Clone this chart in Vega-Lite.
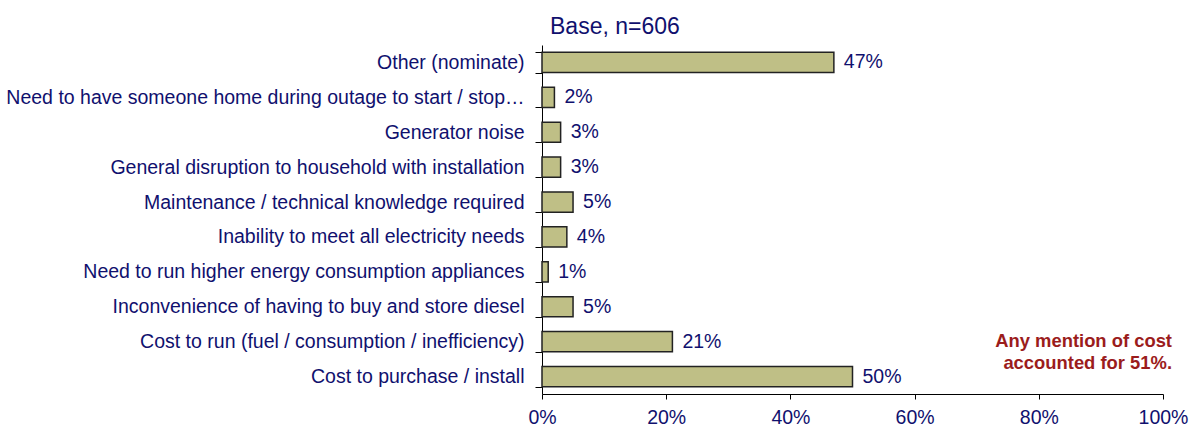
{
  "$schema": "https://vega.github.io/schema/vega-lite/v6.json",
  "width": 621,
  "height": 349,
  "autosize": {"type": "none"},
  "padding": {"left": 542, "top": 45, "right": 29, "bottom": 32},
  "background": "white",
  "config": {
    "view": {"stroke": null},
    "font": "Liberation Sans",
    "text": {"font": "Liberation Sans"}
  },
  "title": {
    "text": "Base, n=606",
    "anchor": "start",
    "frame": "group",
    "fontSize": 23,
    "fontWeight": "normal",
    "color": "#10106e",
    "font": "Liberation Sans",
    "dx": 8,
    "offset": -4
  },
  "data": {
    "values": [
      {"reason": "Other (nominate)", "pct": 47},
      {"reason": "Need to have someone home during outage to start / stop…", "pct": 2},
      {"reason": "Generator noise", "pct": 3},
      {"reason": "General disruption to household with installation", "pct": 3},
      {"reason": "Maintenance / technical knowledge required", "pct": 5},
      {"reason": "Inability to meet all electricity needs", "pct": 4},
      {"reason": "Need to run higher energy consumption appliances", "pct": 1},
      {"reason": "Inconvenience of having to buy and store diesel", "pct": 5},
      {"reason": "Cost to run (fuel / consumption / inefficiency)", "pct": 21},
      {"reason": "Cost to purchase / install", "pct": 50}
    ]
  },
  "encoding": {
    "y": {
      "field": "reason",
      "type": "nominal",
      "sort": null,
      "scale": {"paddingInner": 0.42, "paddingOuter": 0.21},
      "axis": {
        "title": null,
        "labelFontSize": 19.5,
        "labelColor": "#10106e",
        "labelFont": "Liberation Sans",
        "labelLimit": 0,
        "labelPadding": 11,
        "tickBand": "extent",
        "tickSize": 7,
        "tickColor": "#000000",
        "domainColor": "#000000",
        "tickWidth": 1,
        "domainWidth": 1
      }
    }
  },
  "layer": [
    {
      "mark": {"type": "bar", "fill": "#bfbf86", "stroke": "#222222", "strokeWidth": 1.5},
      "encoding": {
        "x": {
          "field": "pct",
          "type": "quantitative",
          "scale": {"domain": [0, 100], "nice": false},
          "axis": {
            "title": null,
            "values": [0, 20, 40, 60, 80, 100],
            "labelExpr": "datum.value + '%'",
            "grid": false,
            "labelFontSize": 19.5,
            "labelColor": "#10106e",
            "labelFont": "Liberation Sans",
            "labelPadding": 9,
            "tickSize": 5,
            "tickColor": "#000000",
            "domainColor": "#000000",
            "labelFlush": false
          }
        }
      }
    },
    {
      "mark": {"type": "text", "align": "left", "baseline": "middle", "dx": 10, "fontSize": 19.5, "color": "#10106e", "font": "Liberation Sans"},
      "encoding": {
        "x": {"field": "pct", "type": "quantitative"},
        "text": {"field": "label", "type": "nominal"}
      },
      "transform": [{"calculate": "datum.pct + '%'", "as": "label"}]
    },
    {
      "data": {"values": [{"note": "Any mention of cost\naccounted for 51%.", "xpos": 100, "cat": "Cost to run (fuel / consumption / inefficiency)"}]},
      "mark": {"type": "text", "align": "right", "baseline": "alphabetic", "dy": 5, "dx": 9, "fontSize": 18.4, "fontWeight": "bold", "color": "#9b1c1c", "font": "Liberation Sans", "lineHeight": 22, "lineBreak": "\n"},
      "encoding": {
        "x": {"field": "xpos", "type": "quantitative"},
        "y": {"field": "cat", "type": "nominal"},
        "text": {"field": "note", "type": "nominal"}
      }
    }
  ]
}
